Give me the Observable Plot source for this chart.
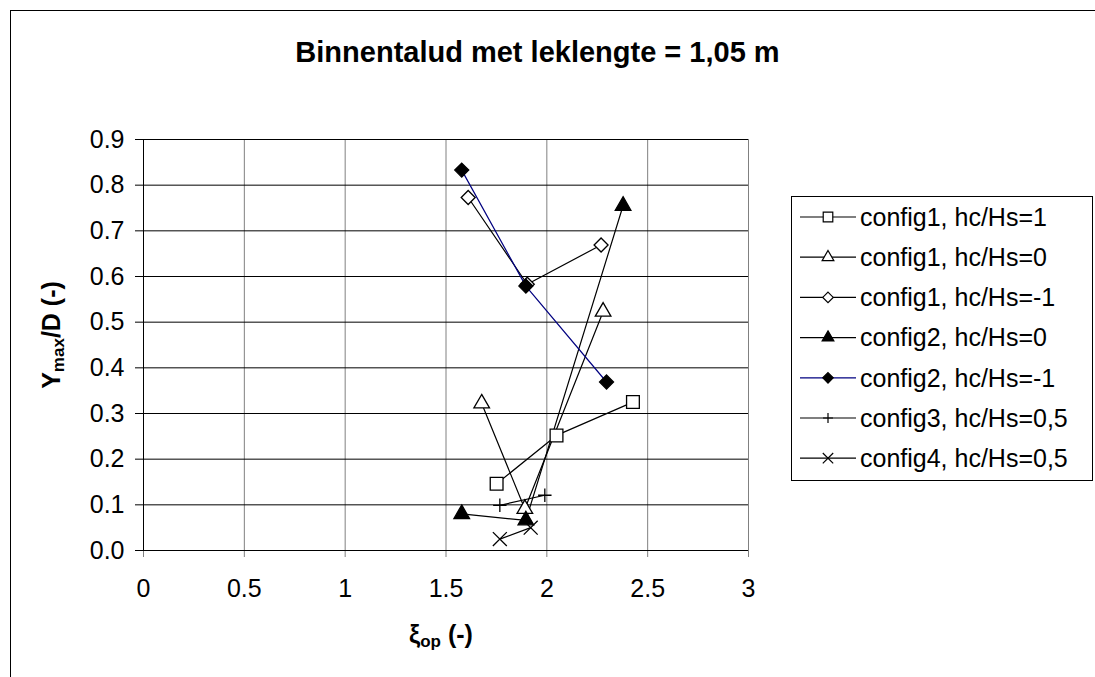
<!DOCTYPE html>
<html>
<head>
<meta charset="utf-8">
<script src="https://cdn.jsdelivr.net/npm/d3@7"></script>
<script src="https://cdn.jsdelivr.net/npm/@observablehq/plot@0.6"></script>
<style>
  html, body { margin:0; padding:0; background:#fff; overflow:hidden; }
  #wrap { position:relative; width:1095px; height:677px; font-family:"Liberation Sans", Arial, sans-serif; color:#000; }
  #frame { position:absolute; left:10px; top:10px; width:1200px; height:800px; border:1px solid #000; box-sizing:border-box; }
  #title { position:absolute; left:0; width:1075px; top:35px; text-align:center; font-weight:bold; font-size:29px; line-height:34px; }
  #ylab { position:absolute; left:55px; top:335px; transform:translate(-50%,-50%) rotate(-90deg); font-weight:bold; font-size:25px; white-space:nowrap; line-height:30px; }
  #xlab { position:absolute; left:441px; top:638px; transform:translate(-50%,-50%); font-weight:bold; font-size:25px; white-space:nowrap; line-height:30px; }
  sub { font-size:0.68em; vertical-align:-0.25em; }
  #chart { position:absolute; left:0; top:0; }
  #legend { position:absolute; left:791px; top:196px; width:302px; height:285px; border:1px solid #000; box-sizing:border-box; background:#fff; }
</style>
</head>
<body>
<div id="wrap">
  <div id="frame"></div>
  <div id="chart"></div>
  <div id="title">Binnentalud met leklengte = 1,05 m</div>
  <div id="ylab">Y<sub>max</sub>/D (-)</div>
  <div id="xlab">ξ<sub>op</sub> (-)</div>
  <div id="legend"></div>
</div>
<script>
// ---- data ----
const seriesNames = [
  "config1, hc/Hs=1",
  "config1, hc/Hs=0",
  "config1, hc/Hs=-1",
  "config2, hc/Hs=0",
  "config2, hc/Hs=-1",
  "config3, hc/Hs=0,5",
  "config4, hc/Hs=0,5"
];
const c1_hc1_x  = [1.751, 2.048, 2.427];
const c1_hc1_y  = [0.146, 0.252, 0.325];
const c1_hc0_x  = [1.677, 1.891, 2.279];
const c1_hc0_y  = [0.322, 0.091, 0.523];
const c1_hcm1_x = [1.610, 1.903, 2.269];
const c1_hcm1_y = [0.773, 0.583, 0.669];
const c2_hc0_x  = [1.578, 1.896, 2.378];
const c2_hc0_y  = [0.080, 0.066, 0.755];
const c2_hcm1_x = [1.578, 1.896, 2.296];
const c2_hcm1_y = [0.833, 0.579, 0.369];
const c3_hc05_x = [1.767, 1.990];
const c3_hc05_y = [0.099, 0.121];
const c4_hc05_x = [1.767, 1.920];
const c4_hc05_y = [0.025, 0.050];

const xTicks = [0, 0.5, 1, 1.5, 2, 2.5, 3];
const yTicks = [0, 0.1, 0.2, 0.3, 0.4, 0.5, 0.6, 0.7, 0.8, 0.9];

// ---- styling per series ----
const styles = [
  {symbol:"square",   r:7.2, fill:"#fff", stroke:"#000", line:"#000"},
  {symbol:"triangle", r:5.8, fill:"#fff", stroke:"#000", line:"#000"},
  {symbol:"diamond2", r:6.3, fill:"#fff", stroke:"#000", line:"#000"},
  {symbol:"triangle", r:5.8, fill:"#000", stroke:"#000", line:"#000"},
  {symbol:"diamond2", r:6.3, fill:"#000", stroke:"#000", line:"#000080"},
  {symbol:"plus",     r:4.4, fill:"none", stroke:"#000", line:"#000"},
  {symbol:"times",    r:6.4, fill:"none", stroke:"#000", line:"#000"}
];
const xs = [c1_hc1_x, c1_hc0_x, c1_hcm1_x, c2_hc0_x, c2_hcm1_x, c3_hc05_x, c4_hc05_x];
const ys = [c1_hc1_y, c1_hc0_y, c1_hcm1_y, c2_hc0_y, c2_hcm1_y, c3_hc05_y, c4_hc05_y];
const tables = seriesNames.map((name, i) => xs[i].map((x, j) => ({series:name, x, y: ys[i][j]})));

const marks = [
  Plot.gridX(xTicks, {stroke:"#808080", strokeOpacity:1, strokeWidth:1}),
  Plot.gridY(yTicks, {stroke:"#000", strokeOpacity:1, strokeWidth:1}),
  Plot.axisX(xTicks, {tickSize:7, tickPadding:22, stroke:"#808080", fill:"#000", label:null, tickFormat:d => String(d), fontSize:25}),
  Plot.axisY(yTicks, {tickSize:8, tickPadding:11, stroke:"#000", fill:"#000", label:null, tickFormat:d3.format(".1f"), fontSize:25}),
  Plot.ruleX([0], {stroke:"#000"}),
  Plot.ruleY([0], {stroke:"#000"})
];
tables.forEach((t, i) => {
  marks.push(Plot.line(t, {x:"x", y:"y", stroke:styles[i].line, strokeWidth:1.2}));
});
tables.forEach((t, i) => {
  const s = styles[i];
  marks.push(Plot.dot(t, {x:"x", y:"y", symbol:s.symbol, r:s.r, fill:s.fill, stroke:s.stroke, strokeWidth:1.3}));
});

const chart = Plot.plot({
  width:1095, height:677,
  marginLeft:143, marginRight:347, marginTop:139, marginBottom:127,
  x:{domain:[0,3]},
  y:{domain:[0,0.9]},
  style:{fontFamily:'"Liberation Sans", Arial, sans-serif', fontSize:"25px", background:"transparent", color:"#000"},
  marks
});
document.getElementById("chart").appendChild(chart);

// ---- legend ----
const lg = d3.select("#legend").append("svg").attr("width", 300).attr("height", 283);
const symMap = {square:d3.symbolSquare, triangle:d3.symbolTriangle, diamond2:d3.symbolDiamond2, plus:d3.symbolPlus, times:d3.symbolTimes};
seriesNames.forEach((name, i) => {
  const s = styles[i];
  const cy = 20 + i * 40.2;
  const g = lg.append("g").attr("transform", `translate(0,${cy})`);
  g.append("line").attr("x1", 8).attr("x2", 64).attr("y1", 0).attr("y2", 0).attr("stroke", s.line).attr("stroke-width", 1.2);
  const size = Math.PI * (s.r * 0.75) ** 2;
  g.append("path").attr("transform", "translate(36,0)")
    .attr("d", d3.symbol(symMap[s.symbol], size)())
    .attr("fill", s.fill).attr("stroke", s.stroke).attr("stroke-width", 1.2);
  g.append("text").attr("x", 68).attr("y", 0).attr("dy", "0.35em")
    .attr("font-family", '"Liberation Sans", Arial, sans-serif').attr("font-size", 25).text(name);
});
</script>
</body>
</html>
